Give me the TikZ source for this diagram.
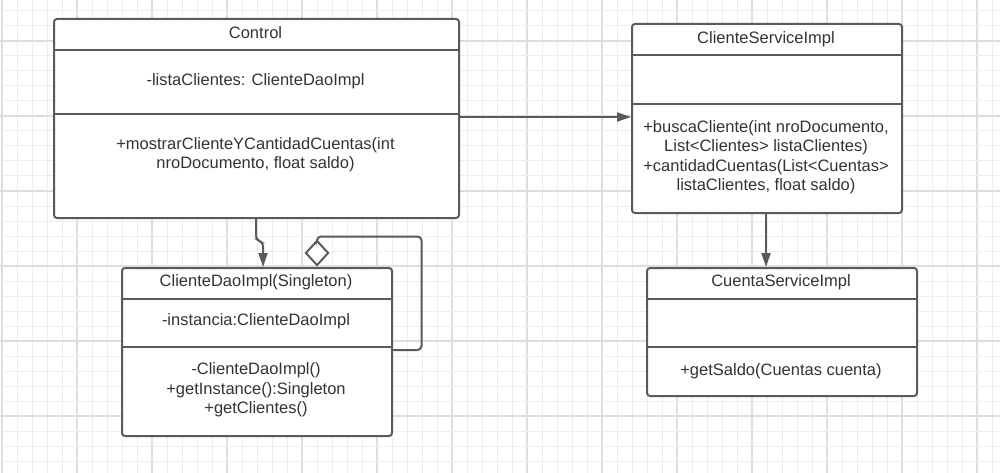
\documentclass[tikz,border=0pt]{standalone}
\usepackage{fontspec}
\setmainfont{Liberation Sans}
\usetikzlibrary{arrows.meta,shapes.geometric}
\definecolor{gridminor}{HTML}{EDEDED}
\definecolor{gridmajor}{HTML}{DEDEDE}
\definecolor{edge}{HTML}{5A5A5A}
\definecolor{ink}{HTML}{333333}
\tikzset{
  umlbox/.style={draw=edge, line width=2pt, fill=white, rounded corners=3pt, inner sep=0pt, anchor=north west},
  divider/.style={draw=edge, line width=2pt},
  txt/.style={text=ink, font=\fontsize{16.5}{19.5}\selectfont, inner sep=0pt, align=center, anchor=base},
  conn/.style={draw=edge, line width=2pt, rounded corners=4pt},
  tip/.style={-{Triangle[length=14pt,width=9pt]}},
}
\begin{document}
\begin{tikzpicture}[x=1pt,y=-1pt]
\useasboundingbox (0,0) rectangle (1000,473);
\fill[white] (0,0) rectangle (1000,473);
% grid
\foreach \k in {0,...,66} {
  \pgfmathtruncatemacro{\m}{mod(\k,5)}
  \ifnum\m=0 \draw[gridmajor, line width=1.2pt] (2+15*\k,0) -- (2+15*\k,473);
  \else \draw[gridminor, line width=1pt] (2+15*\k,0) -- (2+15*\k,473); \fi
}
\foreach \k in {0,...,30} {
  \pgfmathtruncatemacro{\m}{mod(\k,5)}
  \ifnum\m=2 \draw[gridmajor, line width=1.2pt] (0,11+15*\k) -- (1000,11+15*\k);
  \else \draw[gridminor, line width=1pt] (0,11+15*\k) -- (1000,11+15*\k); \fi
}

% Control
\node[umlbox, minimum width=405pt, minimum height=199pt] (control) at (53,18) {};
\draw[divider] (53,50) -- (458,50);
\draw[divider] (53,114) -- (458,114);
\node[txt] (controlT) at (255.5,38.3) {Control};
\node[txt] (controlA) at (255.5,86) {-listaClientes: ClienteDaoImpl};
\node[txt] (controlM) at (255.5,168.8) {+mostrarClienteYCantidadCuentas(int\\nroDocumento, float saldo)};

% ClienteServiceImpl
\node[umlbox, minimum width=270pt, minimum height=189pt] (service) at (631,23) {};
\draw[divider] (631,55) -- (901,55);
\draw[divider] (631,104) -- (901,104);
\node[txt] (serviceT) at (766,43.3) {ClienteServiceImpl};
\node[txt] (serviceM) at (766,190.5) {+buscaCliente(int nroDocumento,\\List<Clientes> listaClientes)\\+cantidadCuentas(List<Cuentas>\\listaClientes, float saldo)};

% ClienteDaoImpl
\node[umlbox, minimum width=270pt, minimum height=168pt] (dao) at (121,267) {};
\draw[divider] (121,299) -- (391,299);
\draw[divider] (121,347) -- (391,347);
\node[txt] (daoT) at (256,286) {ClienteDaoImpl(Singleton)};
\node[txt] (daoA) at (256,325) {-instancia:ClienteDaoImpl};
\node[txt] (daoM) at (256,413.5) {-ClienteDaoImpl()\\+getInstance():Singleton\\+getClientes()};

% CuentaServiceImpl
\node[umlbox, minimum width=270pt, minimum height=128pt] (cuenta) at (646,267) {};
\draw[divider] (646,299) -- (916,299);
\draw[divider] (646,347) -- (916,347);
\node[txt] (cuentaT) at (781,286.5) {CuentaServiceImpl};
\node[txt] (cuentaM) at (781,375) {+getSaldo(Cuentas cuenta)};

% connectors
\coordinate (c1) at (458,117);
\coordinate (c2) at (631,117);
\draw[conn, tip] (c1) -- (c2);

\coordinate (d1) at (256,217);
\coordinate (d2) at (263,267);
\draw[conn, tip] (d1) -- (256,240) -- (263,242) -- (d2);

\coordinate (s1) at (766,212);
\coordinate (s2) at (766,267);
\draw[conn, tip] (s1) -- (s2);

% self aggregation
\coordinate (g2) at (391,350);
\node[draw=edge, line width=2pt, fill=white, minimum width=23pt, minimum height=25pt, shape=diamond, inner sep=0pt] (diam) at (317,253) {};
\draw[conn] (diam.north) -- (317,236.5) -- (421.5,236.5) -- (421.5,350) -- (g2);
\end{tikzpicture}
\end{document}
